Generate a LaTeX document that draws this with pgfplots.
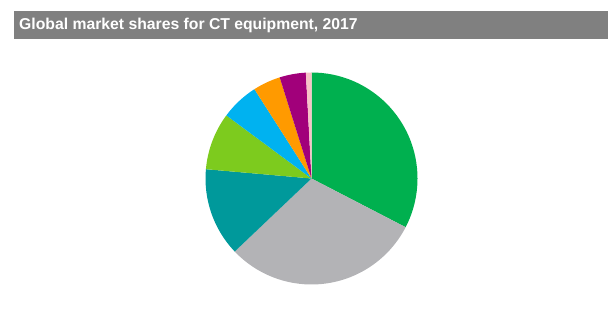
\documentclass[border=0pt]{standalone}
\usepackage{pgfplots}
\pgfplotsset{compat=1.18}
\usepackage{pgfplotstable}
\usepackage{fontspec}
\setmainfont{Liberation Sans}
\definecolor{sGreen}{HTML}{00B04F}
\definecolor{sGray}{HTML}{B3B3B6}
\definecolor{sTeal}{HTML}{00999B}
\definecolor{sLime}{HTML}{7DCB1E}
\definecolor{sBlue}{HTML}{00B2F0}
\definecolor{sOrange}{HTML}{FF9A00}
\definecolor{sPurple}{HTML}{A1007A}
\definecolor{sPink}{HTML}{F6C3C6}
\definecolor{barGray}{HTML}{808080}
\pgfplotstableread{
share col
32.6 sGreen
30.3 sGray
13.5 sTeal
8.75 sLime
5.8 sBlue
4.2 sOrange
4.0 sPurple
0.85 sPink
}\piedata
\begin{document}
\begin{tikzpicture}
\begin{axis}[width=612bp,height=323bp,scale only axis,
  xmin=0,xmax=612,ymin=0,ymax=323,axis lines=none,clip=false]
\path (axis cs:0,0) rectangle (axis cs:612,323);
\fill[barGray] (axis cs:14,312) rectangle (axis cs:608,284);
\node[anchor=west,text=white,font=\bfseries\fontsize{15.8}{17}\selectfont,inner sep=0pt]
  at (axis cs:19,298) {Global market shares for CT equipment, 2017};
\pgfplotstablegetrowsof{\piedata}
\pgfmathtruncatemacro\nrows{\pgfplotsretval-1}
\gdef\curang{90}
\foreach \i in {0,...,\nrows} {
  \pgfplotstablegetelem{\i}{share}\of\piedata
  \let\val\pgfplotsretval
  \pgfplotstablegetelem{\i}{col}\of\piedata
  \let\col\pgfplotsretval
  \pgfmathsetmacro\endang{\curang-3.6*\val}
  \edef\temp{\noexpand\fill[\col] (axis cs:311.5,144.5) -- ++(\curang:106bp)
     arc[start angle=\curang,end angle=\endang,radius=106bp] -- cycle;}
  \temp
  \xdef\curang{\endang}
}
\end{axis}
\end{tikzpicture}
\end{document}
